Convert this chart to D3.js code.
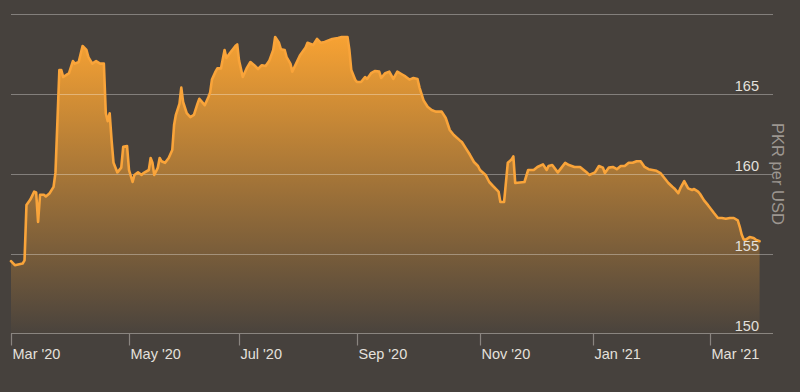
<!DOCTYPE html>
<html>
<head>
<meta charset="utf-8">
<script src="https://cdn.jsdelivr.net/npm/d3@7"></script>
<style>
  html, body { margin: 0; padding: 0; background: #46413d; }
  svg { display: block; }
  text { font-family: "Liberation Sans", Arial, Helvetica, sans-serif; }
</style>
</head>
<body>
<svg id="chart" width="800" height="392"></svg>
<script>
// ---- data ----
const dates = [
"2020-03-01","2020-03-03","2020-03-07","2020-03-08","2020-03-09","2020-03-11","2020-03-13","2020-03-14","2020-03-15","2020-03-16",
"2020-03-18","2020-03-19","2020-03-21","2020-03-23","2020-03-24","2020-03-26","2020-03-27","2020-03-28","2020-03-31","2020-04-02",
"2020-04-03","2020-04-05","2020-04-07","2020-04-09","2020-04-10","2020-04-12","2020-04-14","2020-04-16","2020-04-18","2020-04-19",
"2020-04-20","2020-04-21","2020-04-22","2020-04-23","2020-04-25","2020-04-27","2020-04-28","2020-04-30","2020-05-01","2020-05-03",
"2020-05-04","2020-05-06","2020-05-08","2020-05-09","2020-05-12","2020-05-13","2020-05-14","2020-05-15","2020-05-17","2020-05-18",
"2020-05-19","2020-05-21","2020-05-23","2020-05-25","2020-05-26","2020-05-27","2020-05-29","2020-05-30","2020-05-31","2020-06-02",
"2020-06-04","2020-06-06","2020-06-08","2020-06-09","2020-06-12","2020-06-14","2020-06-15","2020-06-16","2020-06-18","2020-06-19",
"2020-06-21","2020-06-23","2020-06-24","2020-06-26","2020-06-29","2020-06-30","2020-07-01","2020-07-03","2020-07-05","2020-07-07",
"2020-07-09","2020-07-11","2020-07-13","2020-07-15","2020-07-17","2020-07-19","2020-07-20","2020-07-22","2020-07-23","2020-07-25",
"2020-07-26","2020-07-28","2020-07-29","2020-07-31","2020-08-02","2020-08-05","2020-08-06","2020-08-09","2020-08-11","2020-08-13",
"2020-08-15","2020-08-19","2020-08-22","2020-08-24","2020-08-27","2020-08-28","2020-08-29","2020-08-31","2020-09-01","2020-09-03",
"2020-09-05","2020-09-06","2020-09-08","2020-09-10","2020-09-12","2020-09-13","2020-09-15","2020-09-17","2020-09-19","2020-09-21",
"2020-09-23","2020-09-25","2020-09-27","2020-09-29","2020-10-01","2020-10-02","2020-10-04","2020-10-06","2020-10-08","2020-10-10",
"2020-10-13","2020-10-15","2020-10-17","2020-10-19","2020-10-22","2020-10-23","2020-10-25","2020-10-27","2020-10-29","2020-10-31",
"2020-11-01","2020-11-04","2020-11-06","2020-11-08","2020-11-11","2020-11-12","2020-11-14","2020-11-16","2020-11-18","2020-11-19",
"2020-11-20","2020-11-25","2020-11-27","2020-11-30","2020-12-02","2020-12-05","2020-12-07","2020-12-08","2020-12-10","2020-12-13",
"2020-12-15","2020-12-17","2020-12-19","2020-12-22","2020-12-25","2020-12-27","2020-12-29","2020-12-30","2021-01-02","2021-01-04",
"2021-01-06","2021-01-07","2021-01-09","2021-01-11","2021-01-13","2021-01-15","2021-01-17","2021-01-19","2021-01-21","2021-01-23",
"2021-01-25","2021-01-27","2021-01-29","2021-01-31","2021-02-02","2021-02-04","2021-02-06","2021-02-08","2021-02-10","2021-02-11",
"2021-02-13","2021-02-14","2021-02-16","2021-02-18","2021-02-20","2021-02-21","2021-02-23","2021-02-24","2021-02-26","2021-02-28",
"2021-03-03","2021-03-05","2021-03-07","2021-03-09","2021-03-11","2021-03-13","2021-03-15","2021-03-16","2021-03-17","2021-03-18",
"2021-03-19","2021-03-21","2021-03-23","2021-03-24","2021-03-26"
];
const pkrPerUsd = [
154.55,154.3,154.4,154.6,158.06,158.4,158.9,158.85,157.0,158.7,
158.7,158.6,158.8,159.2,160.1,166.5,166.5,166.06,166.3,167.06,
166.9,167.0,168.0,167.75,167.3,166.9,167.06,166.9,166.9,163.8,
163.3,163.8,162.1,160.7,160.1,160.4,161.7,161.75,160.25,159.5,
159.94,160.1,159.94,160.06,160.25,161.0,160.7,159.94,160.4,161.0,
160.8,160.7,161.0,161.5,163.06,163.7,164.4,165.4,164.5,163.8,
163.56,163.7,164.4,164.7,164.3,164.8,165.1,165.9,166.4,166.6,
166.6,167.75,167.25,167.56,168.0,168.1,167.1,166.06,166.6,167.0,
166.8,166.56,166.8,166.75,167.1,167.75,168.56,168.2,167.8,167.75,
167.3,166.9,166.4,166.9,167.4,167.9,168.2,168.06,168.44,168.2,
168.25,168.44,168.5,168.56,168.56,167.75,166.5,165.9,165.75,165.75,
166.06,165.94,166.3,166.44,166.4,166.0,166.3,166.4,165.94,166.4,
166.25,166.1,165.9,166.0,165.94,165.4,164.6,164.2,164.0,163.9,
163.9,163.5,162.75,162.44,162.1,162.0,161.6,161.2,160.75,160.5,
160.25,159.94,159.5,159.25,158.9,158.25,158.25,160.7,160.9,161.1,
159.44,159.5,160.25,160.25,160.44,160.6,160.25,160.5,160.56,160.1,
160.4,160.7,160.56,160.44,160.44,160.25,160.06,159.94,160.1,160.5,
160.4,160.06,160.4,160.44,160.3,160.5,160.5,160.7,160.7,160.8,
160.8,160.44,160.3,160.25,160.2,160.06,159.75,159.44,159.2,159.1,
158.8,159.1,159.56,159.1,159.0,159.06,158.9,158.75,158.35,158.05,
157.56,157.25,157.25,157.2,157.25,157.25,157.1,156.7,156.2,155.9,
155.9,156.06,156.0,155.9,155.8
];
const xTickDates = ["2020-03-01","2020-05-01","2020-07-01","2020-09-01","2020-11-01","2021-01-01","2021-03-01"];
const xTickLabels = ["Mar '20","May '20","Jul '20","Sep '20","Nov '20","Jan '21","Mar '21"];
const yTicks = [150, 155, 160, 165, 170];
const yTickLabels = ["150", "155", "160", "165", ""];
const yAxisTitle = "PKR per USD";

// ---- chart ----
const parse = d3.timeParse("%Y-%m-%d");
const data = dates.map((d, i) => ({ date: parse(d), value: pkrPerUsd[i] }));
const tickDates = xTickDates.map(parse);

const svg = d3.select("#chart");
const W = 800, H = 392;
const left = 11, gridRight = 773;

svg.append("rect").attr("width", W).attr("height", H).attr("fill", "#46413d");

// piecewise time scale matching the reference's month tick placement
const x = d3.scaleTime()
  .domain(tickDates)
  .range([11, 129, 239, 357, 480, 593, 710]);
const y = d3.scaleLinear().domain([150, 170]).range([334, 14]);

const defs = svg.append("defs");
const grad = defs.append("linearGradient")
  .attr("id", "fillGrad")
  .attr("gradientUnits", "userSpaceOnUse")
  .attr("x1", 0).attr("x2", 0)
  .attr("y1", y(d3.max(pkrPerUsd))).attr("y2", y(150));
grad.append("stop").attr("offset", "0%").attr("stop-color", "#f7a233").attr("stop-opacity", 1);
grad.append("stop").attr("offset", "100%").attr("stop-color", "#f7a233").attr("stop-opacity", 0.02);

const area = d3.area()
  .x(d => x(d.date))
  .y0(y(150))
  .y1(d => y(d.value))
  .curve(d3.curveLinear);

svg.append("path")
  .datum(data)
  .attr("d", area)
  .attr("fill", "url(#fillGrad)");

// grid lines
svg.append("g")
  .selectAll("line")
  .data(yTicks.filter(v => v !== 150))
  .join("line")
  .attr("x1", left).attr("x2", gridRight)
  .attr("y1", d => Math.round(y(d)) + 0.5).attr("y2", d => Math.round(y(d)) + 0.5)
  .attr("stroke", "rgba(255,255,255,0.33)")
  .attr("stroke-width", 1);

// line
const line = d3.line()
  .x(d => x(d.date))
  .y(d => y(d.value))
  .curve(d3.curveLinear);

svg.append("path")
  .datum(data)
  .attr("d", line)
  .attr("fill", "none")
  .attr("stroke", "#f9a43a")
  .attr("stroke-width", 2.6)
  .attr("stroke-linejoin", "round")
  .attr("stroke-linecap", "round");

// x axis
const xAxis = d3.axisBottom(x)
  .tickValues(tickDates)
  .tickFormat((d, i) => xTickLabels[i])
  .tickSize(12)
  .tickPadding(3);

const gx = svg.append("g")
  .attr("transform", `translate(0,${Math.round(y(150)) - 0.5})`)
  .call(xAxis);
gx.select(".domain").remove();
gx.append("line")
  .attr("x1", left).attr("x2", gridRight)
  .attr("y1", 0).attr("y2", 0)
  .attr("stroke", "#8a8580").attr("stroke-width", 1.2);
gx.selectAll(".tick line").attr("stroke", "#8a8580").attr("stroke-width", 1.2);
gx.selectAll(".tick text")
  .attr("fill", "#e4e0dc")
  .attr("font-size", "14.5px")
  .attr("text-anchor", "start")
  .attr("x", 1)
  .attr("dy", "0.9em")
  .attr("y", 12);

// y labels (right side, sitting on grid lines)
svg.append("g")
  .selectAll("text")
  .data(yTicks)
  .join("text")
  .attr("x", 759)
  .attr("y", d => y(d) - 3)
  .attr("text-anchor", "end")
  .attr("fill", "#e4e0dc")
  .attr("font-size", "14.5px")
  .text((d, i) => yTickLabels[i]);

// axis title
svg.append("text")
  .attr("transform", `translate(772,${y(160)}) rotate(90)`)
  .attr("text-anchor", "middle")
  .attr("fill", "#9c9690")
  .attr("font-size", "16.5px")
  .text(yAxisTitle);
</script>
</body>
</html>
